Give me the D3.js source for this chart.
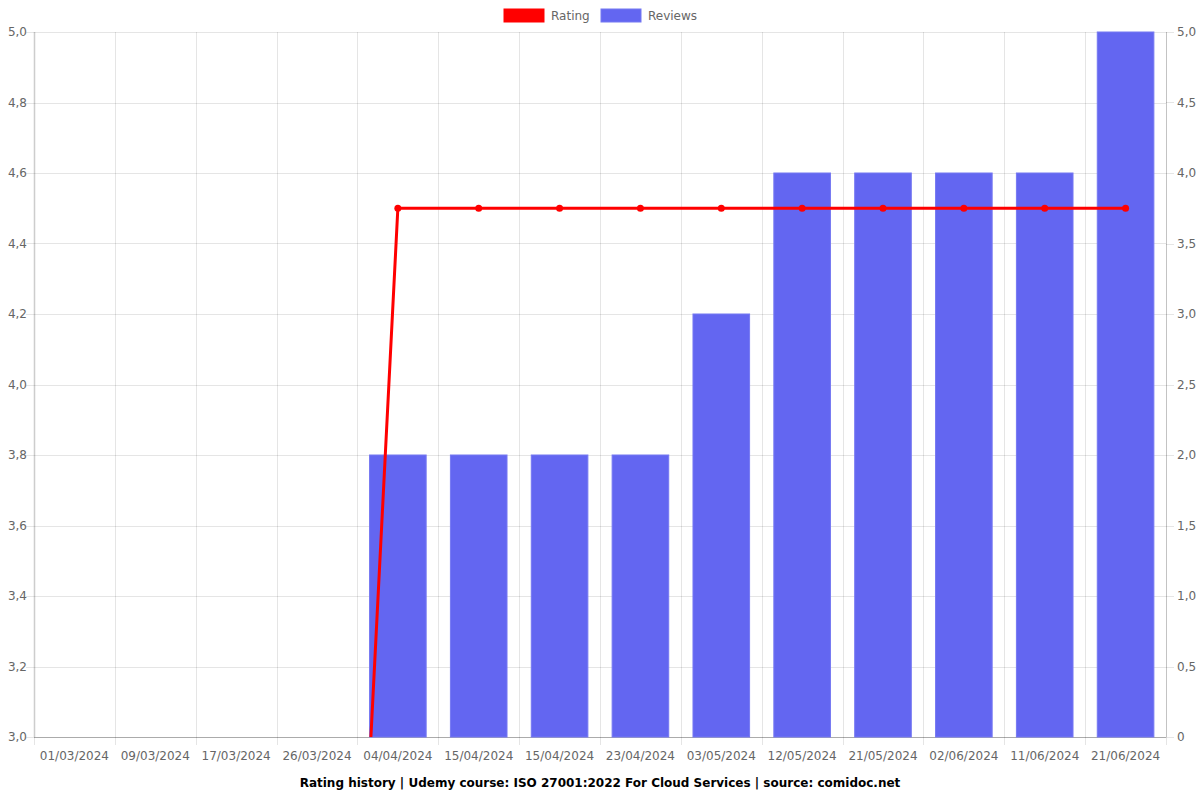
<!DOCTYPE html>
<html><head><meta charset="utf-8">
<script src="https://cdn.jsdelivr.net/npm/d3@7"></script>
<style>body{margin:0;background:#fff;} svg text{font-family:"DejaVu Sans";}</style>
</head><body><svg id="c" width="1200" height="800" font-family="DejaVu Sans"></svg>
<script>
const categories = ["01/03/2024","09/03/2024","17/03/2024","26/03/2024","04/04/2024","15/04/2024","15/04/2024","23/04/2024","03/05/2024","12/05/2024","21/05/2024","02/06/2024","11/06/2024","21/06/2024"];
const ratingValues = [0,0,0,0,4.5,4.5,4.5,4.5,4.5,4.5,4.5,4.5,4.5,4.5];
const reviewValues = [0,0,0,0,2,2,2,2,3,4,4,4,4,5];
const leftTicks = [3.0,3.2,3.4,3.6,3.8,4.0,4.2,4.4,4.6,4.8,5.0];
const rightTicks = [0,0.5,1,1.5,2,2.5,3,3.5,4,4.5,5];
const title = "Rating history | Udemy course: ISO 27001:2022 For Cloud Services | source: comidoc.net";

const svg = d3.select("#c");
const L=34,R=1166,T=32,B=737;
const fmt = d => d3.format(".1f")(d).replace(".",",");
const fmtR = d => d===0 ? "0" : d3.format(".1f")(d).replace(".",",");

const x = d3.scaleBand().domain(d3.range(categories.length)).range([L,R]).paddingInner(0).paddingOuter(0);
const yL = d3.scaleLinear().domain([3,5]).range([B,T]);
const yR = d3.scaleLinear().domain([0,5]).range([B,T]);

const grid = svg.append("g");
leftTicks.forEach(t=>{
  grid.append("line").attr("x1",L-8).attr("x2",R).attr("y1",Math.round(yL(t))+0.5).attr("y2",Math.round(yL(t))+0.5).attr("stroke","rgba(0,0,0,0.1)");
});
for(let i=0;i<=categories.length;i++){
  const xx = Math.round(L + i*x.bandwidth())+0.5;
  grid.append("line").attr("x1",xx).attr("x2",xx).attr("y1",T).attr("y2",B+8).attr("stroke","rgba(0,0,0,0.1)");
}
rightTicks.forEach(t=>{
  grid.append("line").attr("x1",R).attr("x2",R+8).attr("y1",Math.round(yR(t))+0.5).attr("y2",Math.round(yR(t))+0.5).attr("stroke","rgba(0,0,0,0.1)");
});
svg.append("line").attr("x1",L+0.5).attr("x2",L+0.5).attr("y1",T).attr("y2",B).attr("stroke","rgba(0,0,0,0.1)").attr("stroke-width",2);
svg.append("line").attr("x1",R+0.5).attr("x2",R+0.5).attr("y1",T).attr("y2",B).attr("stroke","rgba(0,0,0,0.15)");
svg.append("line").attr("x1",L).attr("x2",R).attr("y1",B+0.5).attr("y2",B+0.5).attr("stroke","rgba(0,0,0,0.25)");

const bw = x.bandwidth()*0.7;
svg.append("g").selectAll("rect").data(reviewValues).join("rect")
  .attr("x",(d,i)=>x(i)+(x.bandwidth()-bw)/2)
  .attr("y",d=>yR(d))
  .attr("width",bw)
  .attr("height",d=>B-yR(d))
  .attr("fill","#6366f1")
  .attr("stroke","#7578f2").attr("stroke-width",1);

svg.append("defs").append("clipPath").attr("id","clip").append("rect").attr("x",L).attr("y",T-5).attr("width",R-L).attr("height",B-T+5);
const cx = i => x(i)+x.bandwidth()/2;
const line = d3.line().x((d,i)=>cx(i)).y(d=>yL(d));
const lg = svg.append("g").attr("clip-path","url(#clip)");
lg.append("path").datum(ratingValues).attr("d",line).attr("fill","none").attr("stroke","#ff0000").attr("stroke-width",3);
lg.selectAll("circle").data(ratingValues).join("circle")
  .attr("cx",(d,i)=>cx(i)).attr("cy",d=>yL(d)).attr("r",3.5).attr("fill","#ff0000");

const tc="#666", fs="12px";
leftTicks.forEach(t=>{
  svg.append("text").attr("x",27).attr("y",yL(t)).attr("dy","0.35em").attr("text-anchor","end").attr("fill",tc).style("font-size",fs).text(fmt(t));
});
rightTicks.forEach(t=>{
  svg.append("text").attr("x",1177).attr("y",yR(t)).attr("dy","0.35em").attr("text-anchor","start").attr("fill",tc).style("font-size",fs).text(fmtR(t));
});
categories.forEach((c,i)=>{
  svg.append("text").attr("x",cx(i)).attr("y",760).attr("text-anchor","middle").attr("fill",tc).style("font-size",fs).text(c);
});
svg.append("text").attr("x",600).attr("y",787).attr("text-anchor","middle").attr("fill","#000").style("font-size","12px").style("font-weight","bold").text(title);

const leg = [{n:"Rating",c:"#ff0000",s:"#ff0000",x:504},{n:"Reviews",c:"#6366f1",s:"#7578f2",x:601}];
leg.forEach(l=>{
  svg.append("rect").attr("x",l.x).attr("y",9).attr("width",40).attr("height",13).attr("fill",l.c).attr("stroke",l.s);
  svg.append("text").attr("x",l.x+47).attr("y",16).attr("dy","0.35em").attr("fill",tc).style("font-size",fs).text(l.n);
});
</script></body></html>
